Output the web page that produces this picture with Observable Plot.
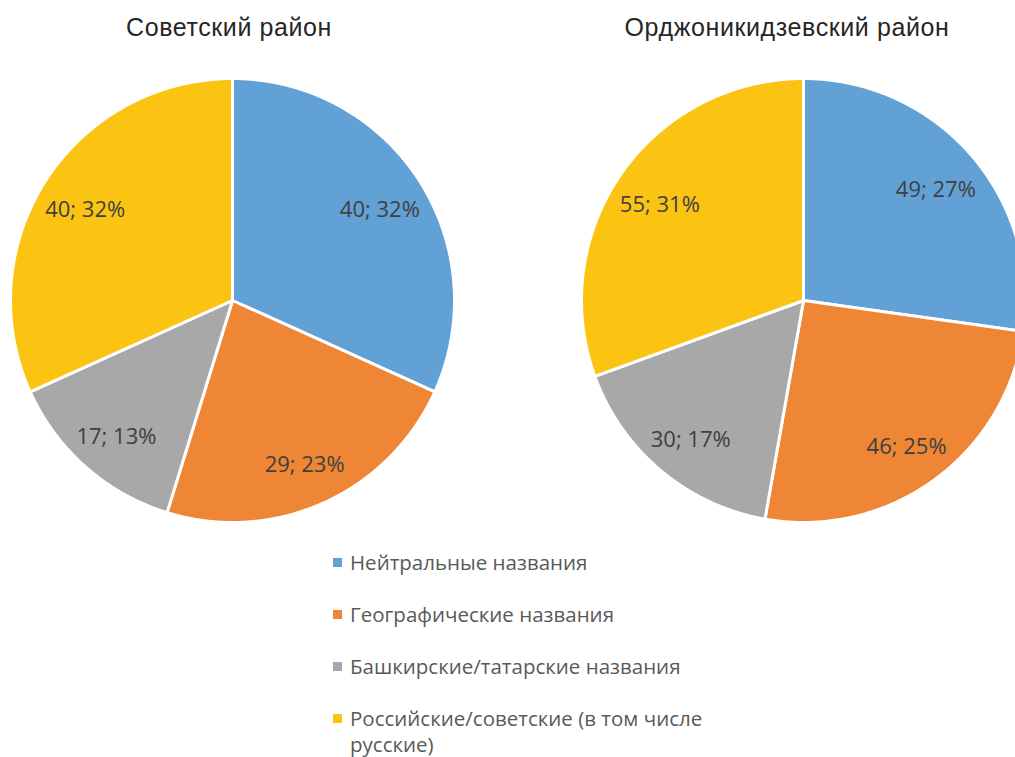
<!DOCTYPE html>
<html><head><meta charset="utf-8">
<script src="https://cdn.jsdelivr.net/npm/d3@7"></script>
<script src="https://cdn.jsdelivr.net/npm/@observablehq/plot@0.6"></script>
<style>
html,body{margin:0;padding:0;background:#fff;overflow:hidden}
#wrap{position:relative;width:1015px;height:757px;overflow:hidden;background:#fff}
.title{position:absolute;top:15px;line-height:25px;font-family:"Liberation Sans",Arial,sans-serif;font-size:25px;letter-spacing:0.6px;color:#262626;transform:translateX(-50%);white-space:nowrap}
#chart{position:absolute;left:0;top:70px;width:1015px;overflow:hidden}
#legend{position:absolute;left:330px;top:549px;font-family:"Open Sans",sans-serif;font-size:20.5px;color:#595959}
.item{position:relative;padding-left:20px;line-height:26px;width:372px;margin-bottom:26px}
.sw{position:absolute;left:3px;top:9px;width:9px;height:9px}
</style></head>
<body><div id="wrap"><div id="titles"></div><div id="chart"></div><div id="legend"></div></div>
<script>
const districts = ["Советский район", "Орджоникидзевский район"];
const categories = ["Нейтральные названия", "Географические названия", "Башкирские/татарские названия", "Российские/советские (в том числе русские)"];
const sovetskyValues = [40, 29, 17, 40];
const sovetskyPct = [32, 23, 13, 32];
const ordzhValues = [49, 46, 30, 55];
const ordzhPct = [27, 25, 17, 31];
const colors = ["#62a1d6", "#ee8636", "#a8a8a8", "#fbc312"];

const seriesByDistrict = [
  {district: districts[0], values: sovetskyValues, pct: sovetskyPct},
  {district: districts[1], values: ordzhValues, pct: ordzhPct}
];

const slicePts = [];
const labels = [];
for (const s of seriesByDistrict) {
  const arcs = d3.pie().sort(null).startAngle(0).endAngle(2 * Math.PI)(s.values);
  arcs.forEach((a, i) => {
    const key = s.district + "|" + i;
    slicePts.push({key, district: s.district, category: categories[i], x: 0, y: 0});
    const n = Math.max(2, Math.ceil((a.endAngle - a.startAngle) / (Math.PI / 360)));
    for (let k = 0; k <= n; k++) {
      const t = a.startAngle + (a.endAngle - a.startAngle) * k / n;
      slicePts.push({key, district: s.district, category: categories[i], x: Math.sin(t), y: Math.cos(t)});
    }
    const mid = (a.startAngle + a.endAngle) / 2;
    labels.push({district: s.district, x: 0.79 * Math.sin(mid), y: 0.79 * Math.cos(mid), text: `${s.values[i]}; ${s.pct[i]}%`});
  });
}

const chart = Plot.plot({
  width: 1015,
  height: 462,
  marginLeft: 0, marginRight: 0, marginTop: 0, marginBottom: 0,
  style: {background: "transparent", fontFamily: "Open Sans"},
  fx: {domain: districts, range: [10, 1025], paddingInner: 127 / 571, paddingOuter: 0, round: false, axis: null},
  x: {domain: [-1, 1], range: [0, 444], axis: null},
  y: {domain: [-1, 1], range: [452, 8], axis: null},
  color: {domain: categories, range: colors},
  marks: [
    Plot.line(slicePts, {x: "x", y: "y", z: "key", fx: "district", fill: "category", stroke: "white", strokeWidth: 3, strokeLinejoin: "round", curve: "linear-closed"}),
    Plot.text(labels, {x: "x", y: "y", dy: 5, fx: "district", text: "text", fill: "#404040", fontSize: 22, fontFamily: "Open Sans"})
  ]
});
document.getElementById("chart").appendChild(chart);

const titleCenters = [229, 787];
const tdiv = document.getElementById("titles");
districts.forEach((d, i) => {
  const el = document.createElement("div");
  el.className = "title";
  el.style.left = titleCenters[i] + "px";
  el.textContent = d;
  tdiv.appendChild(el);
});

const leg = document.getElementById("legend");
categories.forEach((c, i) => {
  const it = document.createElement("div");
  it.className = "item";
  const sw = document.createElement("div");
  sw.className = "sw";
  sw.style.background = colors[i];
  it.appendChild(sw);
  it.appendChild(document.createTextNode(c));
  leg.appendChild(it);
});
</script></body></html>
